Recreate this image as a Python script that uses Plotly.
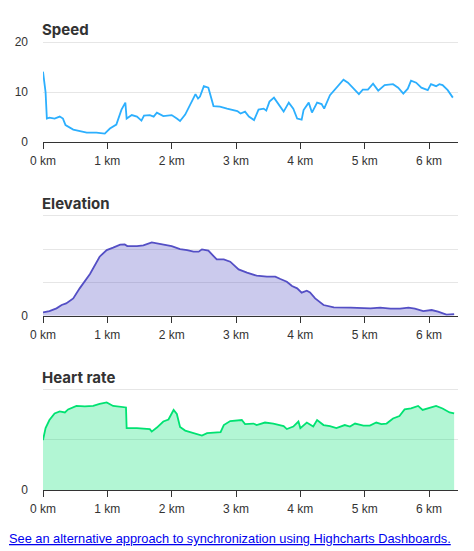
import plotly.graph_objects as go

# ---------------- data ----------------
speed_km = [0, 0.04, 0.06, 0.1, 0.18, 0.26, 0.31, 0.35, 0.47, 0.6, 0.68, 0.83, 0.96, 1.04, 1.14,
            1.22, 1.28, 1.30, 1.38, 1.46, 1.53, 1.57, 1.66, 1.72, 1.77, 1.87, 2.0, 2.08, 2.13, 2.21,
            2.29, 2.37, 2.41, 2.44, 2.5, 2.57, 2.65, 2.75, 2.86, 2.96, 3.02, 3.07, 3.14, 3.2, 3.28,
            3.35, 3.43, 3.47, 3.52, 3.59, 3.66, 3.74, 3.82, 3.89, 3.95, 4.02, 4.05, 4.13, 4.18, 4.26,
            4.33, 4.37, 4.46, 4.53, 4.6, 4.67, 4.74, 4.82, 4.91, 4.97, 5.05, 5.13, 5.21, 5.31, 5.44,
            5.52, 5.6, 5.67, 5.72, 5.8, 5.88, 5.98, 6.03, 6.11, 6.16, 6.21, 6.29, 6.37]
speed_val = [14.1, 10.0, 4.7, 4.9, 4.7, 5.1, 4.7, 3.4, 2.5, 2.1, 1.9, 1.9, 1.7, 2.7, 3.5,
             6.5, 7.9, 4.7, 5.4, 5.1, 4.3, 5.3, 5.4, 5.1, 5.9, 5.2, 5.4, 4.7, 4.2, 5.5,
             7.7, 9.6, 8.7, 9.1, 11.2, 10.9, 7.2, 7.1, 6.7, 6.3, 6.2, 5.7, 6.1, 5.1, 4.4,
             6.5, 6.7, 6.3, 8.1, 8.9, 7.6, 6.1, 7.9, 6.7, 4.7, 4.5, 6.4, 7.9, 5.9, 7.9,
             7.6, 6.7, 9.4, 10.4, 11.4, 12.5, 11.9, 10.9, 9.6, 10.5, 10.5, 11.7, 10.3, 11.4, 11.6,
             10.9, 9.7, 10.7, 12.3, 11.9, 10.9, 10.4, 11.6, 11.2, 11.6, 11.4, 10.4, 8.9]

elev_km = [0, 0.1, 0.21, 0.29, 0.36, 0.47, 0.57, 0.73, 0.88, 0.99, 1.09, 1.2, 1.27, 1.31, 1.46,
           1.56, 1.69, 1.82, 2.0, 2.13, 2.24, 2.34, 2.42, 2.47, 2.57, 2.7, 2.81, 2.91, 2.99, 3.04,
           3.17, 3.32, 3.48, 3.61, 3.69, 3.79, 3.87, 3.95, 4.02, 4.1, 4.15, 4.23, 4.36, 4.52, 4.78,
           5.09, 5.24, 5.4, 5.55, 5.68, 5.78, 5.91, 6.04, 6.14, 6.27, 6.39]
elev_val = [10, 14, 22, 32, 37, 52, 82, 125, 177, 197, 204, 213, 214, 209, 209,
            211, 220, 215, 209, 200, 197, 192, 192, 199, 195, 169, 169, 162, 149, 139,
            129, 120, 117, 117, 110, 102, 89, 82, 69, 75, 70, 52, 32, 25, 24,
            22, 24, 21, 21, 24, 21, 14, 17, 12, 3, 5]

hr_km = [0, 0.04, 0.1, 0.18, 0.26, 0.34, 0.39, 0.52, 0.65, 0.78, 0.88, 0.99, 1.09, 1.2, 1.29,
         1.30, 1.46, 1.66, 1.69, 1.77, 1.87, 1.95, 2.03, 2.08, 2.13, 2.21, 2.34, 2.47, 2.55, 2.76,
         2.81, 2.91, 3.09, 3.14, 3.27, 3.32, 3.45, 3.58, 3.74, 3.79, 3.89, 3.97, 4.0, 4.1, 4.2,
         4.26, 4.36, 4.46, 4.56, 4.69, 4.77, 4.85, 4.98, 5.08, 5.18, 5.26, 5.34, 5.44, 5.54, 5.62,
         5.72, 5.83, 5.9, 5.98, 6.11, 6.21, 6.32, 6.39]
hr_val = [99, 123, 139, 152, 156, 154, 160, 167, 166, 167, 171, 174, 167, 166, 164,
          123, 123, 121, 116, 124, 136, 140, 159, 151, 125, 118, 113, 108, 113, 115,
          129, 137, 139, 131, 132, 129, 134, 132, 127, 121, 126, 136, 123, 134, 126,
          139, 129, 127, 123, 129, 126, 132, 128, 128, 134, 131, 132, 142, 147, 160,
          162, 167, 159, 162, 167, 162, 154, 152]

x_ticks = [0, 1, 2, 3, 4, 5, 6]
x_tick_labels = [f"{v} km" for v in x_ticks]

titles = ["Speed", "Elevation", "Heart rate"]

# ---------------- layout helpers ----------------
W, H = 474, 551
def py(p):
    return 1 - p / H

FONT = "'Liberation Sans', Arial, sans-serif"
TFONT = "Inter, 'Liberation Sans', sans-serif"
TXT = "#333333"

fig = go.Figure()
fig.add_trace(go.Scatter(x=speed_km, y=speed_val, mode="lines",
                         line=dict(color="#2caffe", width=1.8),
                         xaxis="x", yaxis="y", showlegend=False))
fig.add_trace(go.Scatter(x=elev_km, y=elev_val, mode="lines", fill="tozeroy",
                         fillcolor="rgba(84,79,197,0.3)",
                         line=dict(color="#544fc5", width=1.8),
                         xaxis="x2", yaxis="y2", showlegend=False))
fig.add_trace(go.Scatter(x=hr_km, y=hr_val, mode="lines", fill="tozeroy",
                         fillcolor="rgba(0,226,114,0.3)",
                         line=dict(color="#00e272", width=1.8),
                         xaxis="x3", yaxis="y3", showlegend=False))

xdom = [43 / W, 458 / W]
# ranges extend ~2px above the top gridline so it is not clipped
ydoms = [[py(142), py(40.3)], [py(315.7), py(213.7)], [py(490), py(387.3)]]
yranges = [[0, 20.4], [0, 306], [0, 204]]
yticks = [[0, 10, 20], [0, 100, 200, 300], [0, 100, 200]]
ytexts = [["0", "10", "20"], ["0", "", "", ""], ["0", "", ""]]
title_y = [30, 204, 377]

layout = dict(width=W, height=H, margin=dict(l=0, r=0, t=0, b=0, autoexpand=False),
              paper_bgcolor="white", plot_bgcolor="white",
              font=dict(family=FONT, color=TXT, size=11))
annotations = []
for i in range(3):
    sfx = "" if i == 0 else str(i + 1)
    layout["xaxis" + sfx] = dict(domain=xdom, range=[0, 6.45], anchor="y" + sfx,
                                 tickvals=x_ticks, ticktext=x_tick_labels,
                                 showline=True, linecolor="#333333", linewidth=1,
                                 ticks="outside", ticklen=6, tickcolor="#333333",
                                 showgrid=False, zeroline=False, fixedrange=True,
                                 automargin=False, ticklabelstandoff=2,
                                 tickfont=dict(size=12, color=TXT, family=FONT))
    layout["yaxis" + sfx] = dict(domain=ydoms[i], range=yranges[i], anchor="x" + sfx,
                                 tickvals=yticks[i], ticktext=ytexts[i],
                                 showgrid=True, gridcolor="#e6e6e6", gridwidth=1,
                                 zeroline=False, showline=False, ticks="",
                                 ticklabelstandoff=14, fixedrange=True,
                                 automargin=False,
                                 tickfont=dict(size=12, color=TXT, family=FONT))
    annotations.append(dict(text=f"<b>{titles[i]}</b>", x=40 / W, y=py(title_y[i]),
                            xref="paper", yref="paper", xanchor="left", yanchor="middle",
                            showarrow=False, font=dict(size=15, color=TXT, family=TFONT)))

annotations.append(dict(
    text="<a href='https://www.highcharts.com/demo/dashboards/synchronized-charts' "
         "style='fill:#0000ee;color:#0000ee'>"
         "<span style='text-decoration:underline'>See an alternative approach to synchronization using Highcharts Dashboards.</span></a>",
    x=7 / W, y=py(538), xref="paper", yref="paper", xanchor="left", yanchor="middle",
    showarrow=False, font=dict(size=12.8, color="#0000ee", family=FONT)))
layout["annotations"] = annotations

fig.update_layout(**layout)
fig.write_html("out.html")
